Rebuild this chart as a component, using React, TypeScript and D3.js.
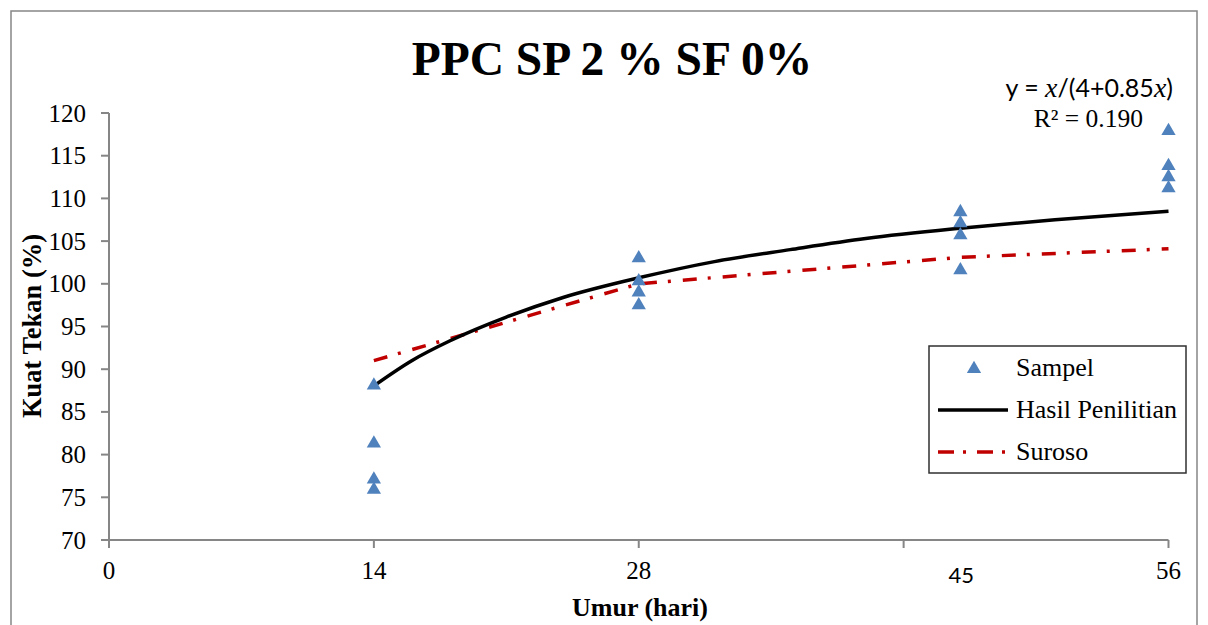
import React from "react";
import * as d3 from "d3";

// ---- data ----
const title = "PPC SP 2 % SF 0%";
const xTicks = [0, 14, 28, 42, 56];
const xTickLabels = ["0", "14", "28", "", "56"];
const extraXLabelValue = 45;
const extraXLabel = "45";
const yTicks = [70, 75, 80, 85, 90, 95, 100, 105, 110, 115, 120];

const sampleDays = [14, 14, 14, 14, 28, 28, 28, 28, 45, 45, 45, 45, 56, 56, 56, 56];
const sampleValues = [88.1, 81.3, 77.1, 75.9, 103.0, 100.3, 99.0, 97.5, 108.4, 107.1, 105.7, 101.6, 117.9, 113.8, 112.5, 111.2];

const trendDays = [14, 16, 18, 21, 24, 28, 32, 36, 40, 45, 50, 56];
const trendValues = [88.05, 91.0, 93.3, 96.1, 98.4, 100.7, 102.6, 104.0, 105.3, 106.5, 107.5, 108.5];

const surosoDays = [14, 28, 45, 56];
const surosoValues = [91.0, 100.0, 103.1, 104.1];

const legendLabels = ["Sampel", "Hasil Penilitian", "Suroso"];
const equationText = "y = ";
const equationRest = "/(4+0.85";
const r2Text = "R² = 0.190";
const xAxisTitle = "Umur (hari)";
const yAxisTitle = "Kuat Tekan (%)";

const W = 1208;
const H = 625;
const serif = "'Liberation Serif', 'Times New Roman', serif";
const sans = "Lato, 'Open Sans', sans-serif";
const axisColor = "#868686";
const blue = "#4F81BD";
const red = "#C00000";
const dash = "14,11,3,12";

export default function App() {
  const x = d3.scaleLinear().domain([0, 56]).range([109, 1168.5]);
  const y = d3.scaleLinear().domain([70, 120]).range([540, 113]);

  const tri = d3.symbol().type(d3.symbolTriangle).size(88)() as string;

  const trendLine = d3
    .line<number>()
    .x((d, i) => x(trendDays[i]))
    .y((d) => y(d))
    .curve(d3.curveMonotoneX)(trendValues) as string;

  const surosoLine = d3
    .line<number>()
    .x((d, i) => x(surosoDays[i]))
    .y((d) => y(d))
    .curve(d3.curveLinear)(surosoValues) as string;

  const legendX = 929;
  const legendY = 346;

  return (
    <svg
      width={W}
      height={H}
      style={{ position: "absolute", left: 0, top: 0, background: "#fff" }}
    >
      <rect x={0} y={0} width={W} height={H} fill="#fff" />
      {/* outer chart border */}
      <rect x={11} y={11} width={1186} height={640} fill="none" stroke={axisColor} strokeWidth={1.5} />

      {/* title */}
      <text x={612} y={75} textAnchor="middle" fontFamily={serif} fontWeight="bold" fontSize={47.5} fill="#000">
        {title}
      </text>

      {/* y axis */}
      <line x1={x(0)} x2={x(0)} y1={y(70)} y2={y(120)} stroke={axisColor} strokeWidth={2} />
      {yTicks.map((t) => (
        <g key={t}>
          <line x1={x(0) - 8} x2={x(0)} y1={y(t)} y2={y(t)} stroke={axisColor} strokeWidth={2} />
          <text x={86} y={y(t)} dy="0.34em" textAnchor="end" fontFamily={serif} fontSize={25} fill="#000">
            {t}
          </text>
        </g>
      ))}

      {/* x axis */}
      <line x1={x(0)} x2={x(56)} y1={y(70)} y2={y(70)} stroke={axisColor} strokeWidth={2} />
      {xTicks.map((t, i) => (
        <g key={t}>
          <line x1={x(t)} x2={x(t)} y1={y(70)} y2={y(70) + 8} stroke={axisColor} strokeWidth={2} />
          <text x={x(t)} y={579} textAnchor="middle" fontFamily={serif} fontSize={25} fill="#000">
            {xTickLabels[i]}
          </text>
        </g>
      ))}
      <text x={x(extraXLabelValue) + 1} y={583} textAnchor="middle" fontFamily={sans} fontSize={22} fill="#000">
        {extraXLabel}
      </text>

      {/* axis titles */}
      <text x={640} y={616} textAnchor="middle" fontFamily={serif} fontWeight="bold" fontSize={26} fill="#000">
        {xAxisTitle}
      </text>
      <text
        transform={`translate(41,326) rotate(-90)`}
        textAnchor="middle"
        fontFamily={serif}
        fontWeight="bold"
        fontSize={26.5}
        fill="#000"
      >
        {yAxisTitle}
      </text>

      {/* lines */}
      <path d={surosoLine} fill="none" stroke={red} strokeWidth={3.5} strokeDasharray={dash} />
      <path d={trendLine} fill="none" stroke="#000" strokeWidth={3.5} />

      {/* samples */}
      {sampleValues.map((v, i) => (
        <path key={i} d={tri} transform={`translate(${x(sampleDays[i])},${y(v)})`} fill={blue} />
      ))}

      {/* equation */}
      <text x={1173} y={97} textAnchor="end" fontFamily={sans} fontSize={25} fill="#000">
        {equationText}
        <tspan fontFamily={serif} fontStyle="italic" fontSize={28}>x</tspan>
        {equationRest}
        <tspan fontFamily={serif} fontStyle="italic" fontSize={28}>x</tspan>
        {")"}
      </text>
      <text x={1143} y={127} textAnchor="end" fontFamily={serif} fontSize={25.5} fill="#000">
        {r2Text}
      </text>

      {/* legend */}
      <rect x={legendX} y={legendY} width={257} height={127} fill="#fff" stroke="#303030" strokeWidth={1.5} />
      <path d={tri} transform={`translate(974,369)`} fill={blue} />
      <text x={1016} y={376} fontFamily={serif} fontSize={26} fill="#000">{legendLabels[0]}</text>
      <line x1={938} x2={1008} y1={410} y2={410} stroke="#000" strokeWidth={3.5} />
      <text x={1016} y={418} fontFamily={serif} fontSize={26} fill="#000">{legendLabels[1]}</text>
      <line x1={938} x2={1008} y1={452} y2={452} stroke={red} strokeWidth={3.5} strokeDasharray="16,9,3,11" />
      <text x={1016} y={460} fontFamily={serif} fontSize={26} fill="#000">{legendLabels[2]}</text>
    </svg>
  );
}
